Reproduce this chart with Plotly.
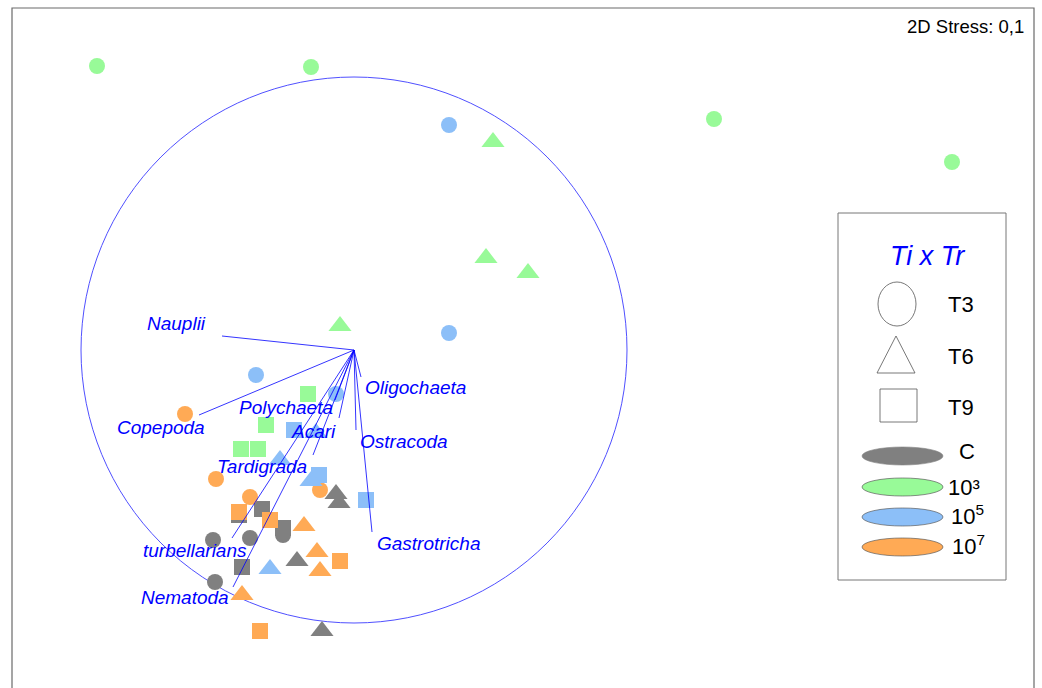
import plotly.graph_objects as go

# ---- nMDS ordination scores (MDS1, MDS2) by treatment ----
# groups: time (T3, T6, T9) x treatment (C, 10^3, 10^5, 10^7)
c_t3_x = [-1.41, -1.04, -0.71, -1.39]
c_t3_y = [-1.90, -1.88, -1.85, -2.32]
c_t6_x = [-0.18, -0.15, -0.57, -0.32]
c_t6_y = [-1.44, -1.53, -2.11, -2.81]
c_t9_x = [-0.71, -0.92, -1.15, -1.12]
c_t9_y = [-1.78, -1.59, -1.65, -2.17]

e3_t3_x = [-2.57, -0.43, 3.60, 5.98]
e3_t3_y = [2.84, 2.83, 2.31, 1.88]
e3_t6_x = [1.39, 1.32, 1.74, -0.14]
e3_t6_y = [2.08, 0.92, 0.77, 0.24]
e3_t9_x = [-0.46, -0.88, -1.13, -0.96]
e3_t9_y = [-0.44, -0.75, -0.99, -0.99]

e5_t3_x = [0.95, 0.95, -0.98, -0.18]
e5_t3_y = [2.25, 0.17, -0.25, -0.44]
e5_t6_x = [-0.38, -0.74, -0.43, -0.84]
e5_t6_y = [-0.83, -1.10, -1.31, -2.19]
e5_t9_x = [-0.60, -0.35, 0.12]
e5_t9_y = [-0.80, -1.25, -1.50]

e7_t3_x = [-1.69, -1.38, -1.04, -0.34]
e7_t3_y = [-0.64, -1.29, -1.47, -1.40]
e7_t6_x = [-0.50, -0.37, -0.34, -1.12]
e7_t6_y = [-1.76, -2.02, -2.21, -2.45]
e7_t9_x = [-1.15, -0.84, -0.14, -0.94]
e7_t9_y = [-1.62, -1.70, -2.11, -2.81]

# ---- taxa vectors (end points, origin at 0,0) ----
taxa = ["Nauplii", "Copepoda", "Polychaeta", "Acari", "Tardigrada",
        "turbellarians", "Nematoda", "Oligochaeta", "Ostracoda", "Gastrotricha"]
vec_x = [-1.32, -1.55, -0.19, -0.15, -0.41, -1.22, -1.21, 0.07, 0.02, 0.18]
vec_y = [0.14, -0.65, -0.50, -0.68, -1.05, -1.88, -2.37, -0.27, -0.80, -1.82]
circle_r = 2.73

stress_text = "2D Stress: 0,1"
legend_title = "Ti x Tr"
time_labels = ["T3", "T6", "T9"]
treat_labels = ["C", "10³", "10<sup>5</sup>", "10<sup>7</sup>"]

# ---- styling ----
W, H = 1042, 688
SCALE = 100.0          # pixels per ordination unit
CX, CY = 354, 350      # pixel position of the origin
X_RANGE = [-CX / SCALE, (W - CX) / SCALE]
Y_RANGE = [(CY - H) / SCALE, CY / SCALE]

GRAY = "#808080"
GREEN = "#98FA98"
BLUE = "#8CBFF8"
ORANGE = "#FFAA55"
VEC = "#0000FF"
FONT = "Liberation Sans, Arial, sans-serif"

sym = {"T3": "circle", "T6": "triangle-up", "T9": "square"}
msize = {"T3": 16, "T6": 20, "T9": 16}

# label offsets (px) relative to vector tips
label_shift = {
    "Nauplii": (-46, 13), "Copepoda": (-38, -12), "Polychaeta": (-49, -7),
    "Acari": (-26, -13), "Tardigrada": (-51, -11), "turbellarians": (-37, -12),
    "Nematoda": (-48, -10), "Oligochaeta": (54, -10), "Ostracoda": (48, -11),
    "Gastrotricha": (56, -11),
}

fig = go.Figure()

groups = [
    (GRAY, [("T3", c_t3_x, c_t3_y), ("T9", c_t9_x, c_t9_y), ("T6", c_t6_x, c_t6_y)]),
    (ORANGE, [("T3", e7_t3_x, e7_t3_y), ("T9", e7_t9_x, e7_t9_y), ("T6", e7_t6_x, e7_t6_y)]),
    (GREEN, [("T3", e3_t3_x, e3_t3_y), ("T6", e3_t6_x, e3_t6_y), ("T9", e3_t9_x, e3_t9_y)]),
    (BLUE, [("T3", e5_t3_x, e5_t3_y), ("T9", e5_t9_x, e5_t9_y), ("T6", e5_t6_x, e5_t6_y)]),
]
for color, items in groups:
    for t, xs, ys in items:
        fig.add_trace(go.Scatter(
            x=xs, y=ys, mode="markers", showlegend=False, hoverinfo="skip",
            marker=dict(symbol=sym[t], size=msize[t], color=color,
                        line=dict(width=0)),
        ))

# vectors from the origin
for name, vx, vy in zip(taxa, vec_x, vec_y):
    fig.add_trace(go.Scatter(
        x=[0, vx], y=[0, vy], mode="lines", showlegend=False, hoverinfo="skip",
        line=dict(color=VEC, width=0.8),
    ))

shapes = []
annotations = []

# correlation circle
shapes.append(dict(type="circle", xref="x", yref="y",
                   x0=-circle_r, x1=circle_r, y0=-circle_r, y1=circle_r,
                   line=dict(color="#5050FF", width=1), layer="below"))

for name, vx, vy in zip(taxa, vec_x, vec_y):
    dx, dy = label_shift[name]
    annotations.append(dict(
        x=vx, y=vy, xref="x", yref="y", text=f"<i>{name}</i>", showarrow=False,
        xshift=dx, yshift=dy, font=dict(family=FONT, size=19, color=VEC),
        xanchor="center", yanchor="middle",
    ))


def px(x):
    return x / W


def py(y):
    return 1 - y / H


def label(x, y, text, size, color="black", xanchor="center"):
    annotations.append(dict(x=px(x), y=py(y), xref="paper", yref="paper",
                            text=text, showarrow=False,
                            xanchor=xanchor, yanchor="middle",
                            font=dict(family=FONT, size=size, color=color)))


# outer frame
shapes.append(dict(type="rect", xref="paper", yref="paper",
                   x0=px(12), x1=px(1034), y0=py(8), y1=py(720),
                   line=dict(color="#6A6A6A", width=1.2)))

label(1026, 27, stress_text, 18.5, xanchor="right")

# ---- key box ----
shapes.append(dict(type="rect", xref="paper", yref="paper",
                   x0=px(838), x1=px(1006), y0=py(213), y1=py(580),
                   line=dict(color="#777777", width=1), fillcolor="white",
                   layer="below"))
label(927, 256, f"<i>{legend_title}</i>", 27, color=VEC)

# time symbols
outline = dict(color="#555555", width=0.8)
shapes.append(dict(type="circle", xref="paper", yref="paper",
                   x0=px(878), x1=px(916), y0=py(326), y1=py(282), line=outline))
shapes.append(dict(type="path", xref="paper", yref="paper", line=outline,
                   path=f"M {px(877)} {py(373)} L {px(915)} {py(373)} L {px(896)} {py(336)} Z"))
shapes.append(dict(type="rect", xref="paper", yref="paper",
                   x0=px(880), x1=px(917), y0=py(422), y1=py(389), line=outline))
for lab, yy in zip(time_labels, [304, 356, 407]):
    label(961, yy, lab, 22)

# treatment swatches
sw_colors = [GRAY, GREEN, BLUE, ORANGE]
sw_lines = [GRAY, "#444444", "#444444", "#444444"]
sw_y = [456, 487, 517, 547]
text_pos = [(967, 452), (964, 487), (967, 515), (968, 545)]
for col, lc, yy, lab, (tx, ty) in zip(sw_colors, sw_lines, sw_y, treat_labels, text_pos):
    shapes.append(dict(type="circle", xref="paper", yref="paper",
                       x0=px(862), x1=px(943), y0=py(yy + 9), y1=py(yy - 9),
                       fillcolor=col, line=dict(color=lc, width=0.6)))
    label(tx, ty, lab, 22)

axis_common = dict(showgrid=False, zeroline=False, showticklabels=False,
                   showline=False, ticks="", fixedrange=True)
fig.update_layout(
    width=W, height=H,
    margin=dict(l=0, r=0, t=0, b=0),
    paper_bgcolor="white", plot_bgcolor="white",
    xaxis=dict(range=X_RANGE, **axis_common),
    yaxis=dict(range=Y_RANGE, **axis_common),
    shapes=shapes, annotations=annotations, showlegend=False,
)

fig.write_html("out.html")
